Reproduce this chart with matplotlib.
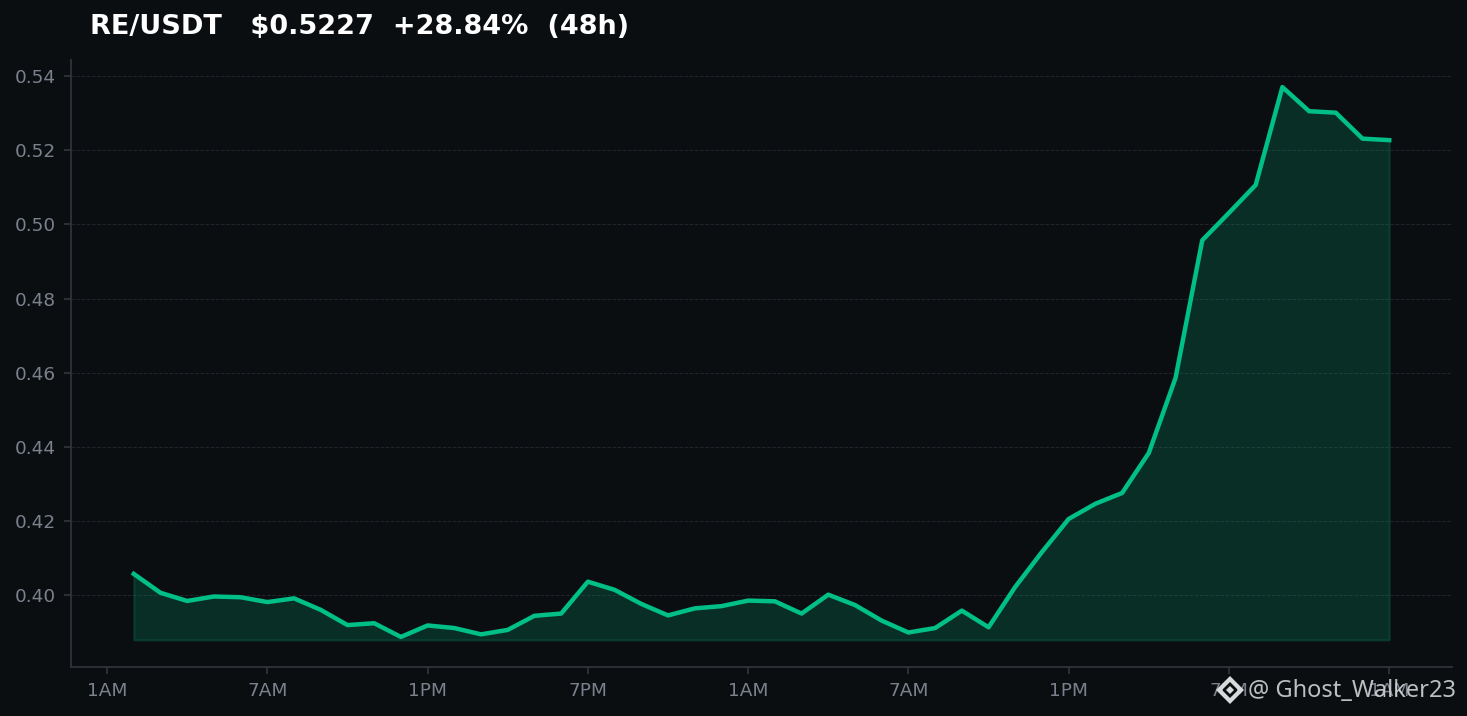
import matplotlib
matplotlib.use("Agg")
import matplotlib.pyplot as plt
from matplotlib.patches import Polygon

plt.rcParams["font.family"] = ["DejaVu Sans"]

# Data
hours = list(range(1, 49))
prices = [
    0.4058, 0.4007, 0.3985, 0.3997, 0.3995, 0.3982, 0.3992, 0.3961,
    0.3920, 0.3925, 0.3888, 0.3919, 0.3912, 0.3895, 0.3907, 0.3945,
    0.3951, 0.4037, 0.4015, 0.3977, 0.3946, 0.3965, 0.3971, 0.3986,
    0.3984, 0.3951, 0.4002, 0.3974, 0.3932, 0.3900, 0.3912, 0.3959,
    0.3914, 0.4023, 0.4117, 0.4206, 0.4247, 0.4276, 0.4384, 0.4586,
    0.4957, 0.5031, 0.5106, 0.5370, 0.5305, 0.5301, 0.5231, 0.5227,
]
tick_hours = [0, 6, 12, 18, 24, 30, 36, 42, 48]
tick_labels = ["1AM", "7AM", "1PM", "7PM", "1AM", "7AM", "1PM", "7PM", "1AM"]
y_ticks = [0.40, 0.42, 0.44, 0.46, 0.48, 0.50, 0.52, 0.54]
fill_base = 0.388

# Colours
bg = "#0a0e11"
green = "#00c087"
spine = "#30343b"
muted = "#7b808c"

W, H = 1467, 716
fig = plt.figure(figsize=(W / 100, H / 100), dpi=100, facecolor=bg)
ax = fig.add_axes([71 / W, 1 - 667 / H, (1452 - 71) / W, (667 - 60) / H], facecolor=bg)

ax.fill_between(hours, prices, fill_base, color=green, alpha=0.18, linewidth=1.5)
ax.plot(hours, prices, color=green, linewidth=3.2)

ax.set_xlim(-1.35, 50.35)
ax.set_ylim(0.3807, 0.5443)
ax.set_xticks(tick_hours)
ax.set_xticklabels(tick_labels)
ax.set_yticks(y_ticks)
ax.set_yticklabels([f"{v:.2f}" for v in y_ticks])
ax.tick_params(colors=spine, labelcolor=muted, labelsize=13.3, length=5, width=1.3, pad=6)
ax.grid(axis="y", color="#22262c", linewidth=0.7, linestyle="--")
ax.set_axisbelow(True)

for side in ["top", "right"]:
    ax.spines[side].set_visible(False)
for side in ["left", "bottom"]:
    ax.spines[side].set_color(spine)
    ax.spines[side].set_linewidth(1.3)

fig.text(90 / W, 1 - 27 / H, "RE/USDT   $0.5227  +28.84%  (48h)", color="white",
         fontsize=19.5, fontweight="bold", va="center", ha="left")

# Watermark
fig.text(1248 / W, 1 - 691 / H, "@ Ghost_Walker23", color="#d0d3d6", alpha=0.9,
         fontsize=17, family="Noto Sans", va="center", ha="left")


def diamond(cx, cy, r, color):
    pts = [(cx - r, cy), (cx, cy - r), (cx + r, cy), (cx, cy + r)]
    fig.add_artist(Polygon([(x / W, 1 - y / H) for x, y in pts], closed=True,
                           transform=fig.transFigure, facecolor=color, edgecolor="none"))


diamond(1230, 690, 14, "#d8dadc")
diamond(1230, 690, 8, bg)
diamond(1230, 690, 4, "#d8dadc")
diamond(1220, 690, 3, "#d8dadc")
diamond(1240, 690, 3, "#d8dadc")

fig.savefig("out.png", dpi=100, facecolor=bg)
